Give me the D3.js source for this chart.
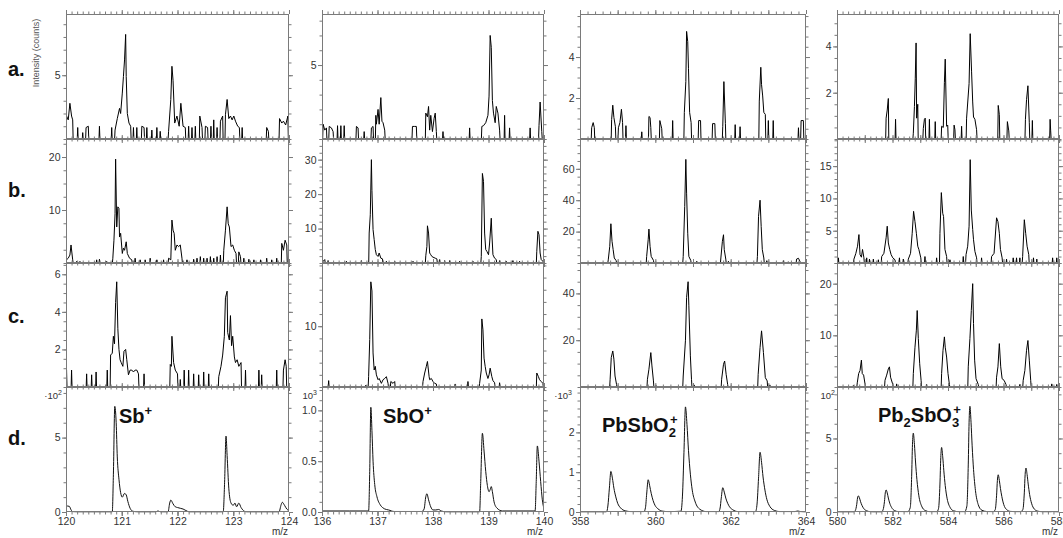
<!DOCTYPE html>
<html><head><meta charset="utf-8">
<script src="https://cdn.jsdelivr.net/npm/d3@7"></script>
<style>body{margin:0;background:#fff}svg{display:block}</style>
</head><body><svg id="chart" width="1063" height="538"></svg>
<script>
// ---------------- DATA ----------------
const rowLabels = ["a.", "b.", "c.", "d."];
const ionNames = ["Sb", "SbO", "PbSbO2", "Pb2SbO3"];
const mzDomains = [[120, 124], [136, 140], [358, 364], [580, 588]];
const xTickValues = [[120, 121, 122, 123, 124], [136, 137, 138, 139, 140], [358, 360, 362, 364], [580, 582, 584, 586, 588]];
const xTickLabels = [["120", "121", "122", "123", "124"], ["136", "137", "138", "139", "140"], ["358", "360", "362", "364"], ["580", "582", "584", "586", "588"]];
const yTops = [[9.8, 8.45, 6.1, 5.4], [23.4, 36, 79, 19.2], [6.6, 20.4, 53, 24], [8.4, 1.23, 3.14, 8.5]];
const yTickValues = [
  [[5], [5], [2, 4], [2, 4]],
  [[10, 20], [10, 20, 30], [20, 40, 60], [5, 10, 15]],
  [[2, 4, 6], [10], [20, 40], [10, 20]],
  [[0, 5], [0, 0.5, 1.0], [0, 1, 2], [0, 5]]
];
const yTickLabels = [
  [["5"], ["5"], ["2", "4"], ["2", "4"]],
  [["10", "20"], ["10", "20", "30"], ["20", "40", "60"], ["5", "10", "15"]],
  [["2", "4", "6"], ["10"], ["20", "40"], ["10", "20"]],
  [["0", "5"], ["0.0", "0.5", "1.0"], ["0", "1", "2"], ["0", "5"]]
];
const yMinorSteps = [[1, 1, 0.5, 0.5], [2.5, 2, 5, 1], [0.5, 2, 5, 2], [1, 0.1, 0.2, 1]];
const exponentLabels = [["·10", "2"], ["10", "3"], ["·10", "3"], ["10", "2"]];

// row a: [m/z, counts]
const a_Sb = [[120.01,1.8],[120.04,1.5],[120.07,2.8],[120.10,1.8],[120.12,1.5],[120.21,0.9],[120.30,0.5],[120.36,0.9],[120.40,1.0],[120.60,1.0],[120.82,0.9],[120.88,0.7],[120.92,1.6],[120.96,2.4],[120.98,2.0],[121.01,3.6],[121.03,4.9],[121.05,6.2],[121.07,8.2],[121.08,4.9],[121.10,2.0],[121.13,1.25],[121.16,1.0],[121.21,0.9],[121.27,0.9],[121.36,1.0],[121.40,0.9],[121.45,0.9],[121.54,0.7],[121.63,0.9],[121.69,0.6],[121.84,0.6],[121.88,3.1],[121.90,5.7],[121.92,4.6],[121.95,1.25],[121.99,1.8],[122.03,1.0],[122.06,2.8],[122.10,1.0],[122.14,0.9],[122.20,1.0],[122.26,0.9],[122.32,1.0],[122.40,1.8],[122.44,0.9],[122.50,1.0],[122.54,0.9],[122.60,1.0],[122.65,1.5],[122.71,0.9],[122.77,1.4],[122.81,1.8],[122.86,1.9],[122.89,3.1],[122.92,1.6],[122.95,1.8],[122.98,1.5],[123.01,1.8],[123.04,1.4],[123.08,1.0],[123.11,0.9],[123.16,0.9],[123.60,0.9],[123.63,0.6],[123.83,1.6],[123.87,1.25],[123.90,1.4],[123.94,1.1],[123.98,1.8]];
const a_SbO = [[136.02,1.0],[136.05,0.6],[136.08,0.75],[136.13,0.85],[136.17,0.75],[136.20,0.5],[136.28,0.9],[136.34,0.9],[136.40,0.9],[136.62,0.85],[136.65,0.75],[136.76,0.5],[136.89,0.75],[136.92,0.85],[136.97,1.6],[136.98,1.0],[137.01,2.0],[137.03,1.0],[137.06,2.8],[137.08,1.2],[137.10,1.1],[137.13,0.6],[137.63,0.85],[137.67,0.85],[137.70,0.85],[137.87,1.75],[137.90,1.5],[137.92,2.2],[137.94,0.6],[137.96,1.6],[137.99,0.5],[138.02,1.4],[138.04,1.75],[138.06,0.5],[138.18,0.5],[138.66,0.75],[138.88,0.85],[138.91,0.9],[138.95,1.1],[138.99,1.6],[139.01,2.9],[139.03,7.0],[139.05,6.2],[139.07,2.6],[139.09,1.75],[139.12,1.1],[139.14,2.2],[139.17,1.75],[139.20,0.6],[139.29,1.6],[139.38,0.75],[139.75,0.75],[139.91,0.9],[139.93,2.5],[139.96,0.5]];
const a_PbSbO2 = [[358.31,0.55],[358.35,0.8],[358.38,0.55],[358.84,0.95],[358.87,1.65],[358.90,1.05],[358.94,0.6],[359.02,0.55],[359.06,0.8],[359.10,1.45],[359.13,0.8],[359.22,0.65],[359.64,0.35],[359.83,1.1],[359.86,1.05],[359.88,0.55],[360.12,0.9],[360.17,0.5],[360.46,0.9],[360.77,1.3],[360.81,2.8],[360.83,5.25],[360.86,4.75],[360.88,3.45],[360.91,1.3],[360.95,0.8],[361.15,0.9],[361.20,0.9],[361.52,0.75],[361.58,0.75],[361.79,0.6],[361.82,2.8],[361.86,0.75],[362.12,0.7],[362.25,0.6],[362.76,1.85],[362.80,3.5],[362.82,2.65],[362.85,2.1],[362.88,1.3],[362.92,1.2],[363.00,0.9],[363.13,0.9],[363.80,0.55],[363.87,0.9],[363.93,0.9]];
const a_Pb2SbO3 = [[581.77,0.9],[581.81,1.25],[581.85,1.75],[582.11,0.85],[582.75,0.25],[582.79,1.4],[582.82,2.6],[582.85,4.15],[582.87,0.9],[582.91,1.5],[583.11,0.45],[583.15,0.85],[583.18,0.9],[583.33,0.85],[583.54,0.75],[583.77,0.55],[583.83,0.5],[583.87,2.45],[583.90,3.45],[583.95,0.55],[583.99,0.6],[584.22,0.6],[584.25,0.4],[584.49,0.55],[584.67,0.9],[584.76,2.4],[584.80,4.55],[584.85,2.9],[584.89,1.6],[584.92,0.95],[584.97,0.85],[585.03,0.4],[585.81,1.45],[585.85,1.05],[586.14,0.75],[586.19,0.35],[586.79,0.85],[586.83,1.7],[586.88,2.3],[586.93,0.7],[587.04,0.8],[587.68,0.85],[587.70,0.35]];

// row b
const b_Sb = [[120.01,0.6],[120.04,0.9],[120.07,1.5],[120.09,3.4],[120.12,0.6],[120.19,0.3],[120.25,0.3],[120.55,0.6],[120.60,0.7],[120.73,0.3],[120.84,0.9],[120.86,4.3],[120.88,9.3],[120.89,19.6],[120.91,6.8],[120.93,10.6],[120.95,10.3],[120.96,4.9],[120.98,5.6],[121.01,1.8],[121.03,2.8],[121.05,2.4],[121.08,4.0],[121.10,1.8],[121.14,0.9],[121.18,0.6],[121.24,0.9],[121.33,0.6],[121.42,0.6],[121.51,0.9],[121.63,0.6],[121.75,0.6],[121.84,0.9],[121.88,0.6],[121.90,8.1],[121.92,6.2],[121.94,5.6],[121.96,2.4],[121.99,3.4],[122.02,3.1],[122.05,3.4],[122.08,0.9],[122.17,0.6],[122.29,0.7],[122.35,0.9],[122.41,1.2],[122.47,0.9],[122.53,0.9],[122.59,1.2],[122.65,0.9],[122.71,1.2],[122.77,1.5],[122.83,2.4],[122.86,6.2],[122.89,10.6],[122.91,7.4],[122.93,6.8],[122.96,3.1],[122.99,3.4],[123.02,2.4],[123.05,1.8],[123.10,2.1],[123.13,1.2],[123.19,0.9],[123.28,0.7],[123.37,0.6],[123.49,0.6],[123.60,0.9],[123.69,0.6],[123.78,0.9],[123.87,3.7],[123.90,2.4],[123.93,4.3],[123.96,3.4]];
const b_SbO = [[136.02,0.5],[136.05,1.0],[136.11,0.7],[136.44,0.5],[136.59,0.3],[136.71,0.7],[136.85,8.7],[136.87,14],[136.89,30],[136.90,21],[136.92,9.7],[136.94,6.8],[136.96,3.9],[136.98,2.4],[137.01,1.9],[137.03,2.9],[137.06,1.4],[137.09,1.2],[137.16,0.5],[137.31,0.5],[137.40,0.3],[137.64,0.5],[137.87,2.1],[137.89,4.8],[137.90,10.8],[137.92,8.7],[137.94,2.9],[137.96,2.4],[137.98,1.9],[138.00,1.7],[138.04,1.4],[138.07,1.2],[138.12,1.0],[138.21,0.7],[138.30,0.7],[138.48,0.5],[138.72,0.5],[138.87,1.9],[138.89,26],[138.91,23.7],[138.93,8.7],[138.95,3.9],[138.97,3.4],[139.00,2.4],[139.02,5.8],[139.05,13],[139.06,8.7],[139.08,2.4],[139.11,1.4],[139.14,1.0],[139.20,0.7],[139.32,0.5],[139.44,0.7],[139.56,0.5],[139.71,0.3],[139.87,3.4],[139.89,9.2],[139.91,8.2],[139.93,2.9],[139.95,1.0],[139.98,0.5]];
const b_PbSbO2 = [[358.09,0.4],[358.35,0.4],[358.58,0.3],[358.75,2],[358.79,10.6],[358.82,25],[358.85,13.8],[358.88,8.5],[358.91,3.2],[358.96,1.5],[359.06,0.6],[359.24,0.5],[359.42,0.6],[359.59,0.4],[359.77,4.2],[359.81,14.8],[359.83,21.6],[359.86,10.6],[359.89,4.2],[359.95,1.7],[360.08,0.6],[360.26,0.5],[360.48,0.4],[360.74,4.2],[360.78,36],[360.81,66],[360.83,44.5],[360.86,19],[360.89,4.2],[360.94,1.7],[361.10,1.1],[361.27,0.6],[361.54,0.5],[361.74,3.2],[361.78,13.8],[361.81,18],[361.83,8.5],[361.87,2.5],[361.94,1.1],[362.07,0.6],[362.34,0.5],[362.51,0.6],[362.71,4.2],[362.74,29.7],[362.78,40],[362.81,23.3],[362.84,8.5],[362.88,3.2],[362.96,1.5],[363.13,0.6],[363.40,1.5],[363.53,0.8],[363.75,2.5],[363.80,3.0],[363.84,1.0]];
const b_Pb2SbO3 = [[580.05,0.8],[580.61,0.6],[580.68,1.5],[580.74,2.6],[580.79,4.4],[580.83,1.3],[580.88,0.9],[580.92,2.1],[580.97,0.8],[581.07,0.8],[581.17,0.6],[581.31,0.6],[581.49,0.5],[581.61,1.0],[581.69,1.5],[581.77,3.9],[581.81,5.7],[581.85,3.1],[581.90,2.1],[581.95,1.3],[582.01,0.8],[582.09,0.5],[582.25,0.8],[582.39,0.6],[582.57,0.6],[582.65,1.5],[582.71,4.6],[582.76,8.0],[582.81,6.4],[582.86,4.6],[582.91,2.6],[582.95,2.1],[583.02,0.8],[583.17,1.0],[583.59,0.8],[583.71,4.6],[583.76,10.9],[583.81,7.7],[583.84,7.2],[583.89,2.1],[583.95,1.0],[584.07,0.5],[584.55,1.0],[584.65,1.3],[584.71,2.6],[584.76,5.7],[584.80,16],[584.84,8.2],[584.89,5.2],[584.92,3.6],[584.97,1.8],[585.03,0.8],[585.21,0.8],[585.57,1.0],[585.66,1.5],[585.75,7.0],[585.80,6.4],[585.85,4.6],[585.89,2.1],[585.95,0.8],[586.11,0.6],[586.35,0.8],[586.47,0.8],[586.59,0.8],[586.69,1.0],[586.75,6.7],[586.80,4.6],[586.85,2.6],[586.91,1.3],[587.08,0.8],[587.20,0.6],[587.77,0.8],[587.92,0.8]];

// row c
const c_Sb = [[120.01,0.9],[120.10,0.9],[120.37,0.7],[120.46,0.65],[120.54,0.8],[120.74,0.9],[120.80,1.7],[120.83,1.8],[120.85,2.7],[120.87,2.3],[120.89,4.5],[120.91,5.6],[120.93,3.1],[120.95,2.0],[120.97,1.45],[120.99,1.3],[121.02,1.1],[121.04,1.9],[121.07,2.0],[121.09,1.45],[121.12,0.65],[121.15,0.9],[121.18,0.9],[121.21,0.8],[121.24,0.9],[121.27,0.9],[121.30,0.7],[121.40,0.7],[121.87,1.2],[121.89,1.1],[121.90,2.7],[121.93,1.3],[121.96,0.9],[122.00,0.7],[122.05,0.4],[122.12,0.9],[122.20,0.9],[122.29,0.7],[122.38,0.65],[122.47,0.8],[122.56,0.7],[122.74,0.55],[122.78,1.1],[122.81,1.7],[122.84,2.7],[122.86,4.75],[122.89,5.1],[122.90,2.9],[122.93,2.5],[122.95,3.8],[122.97,2.2],[122.99,2.7],[123.02,1.6],[123.04,1.3],[123.07,1.45],[123.10,1.1],[123.14,1.3],[123.22,0.9],[123.46,0.9],[123.51,0.65],[123.78,0.9],[123.90,0.9],[123.93,1.45],[123.95,1.1]];
const c_SbO = [[136.12,1.05],[136.79,0.3],[136.84,1.7],[136.86,7.8],[136.88,17.3],[136.90,15.8],[136.92,5.6],[136.94,2.8],[136.96,3.4],[136.98,2.0],[137.01,1.2],[137.03,1.4],[137.07,0.6],[137.10,1.2],[137.13,1.4],[137.16,1.7],[137.19,0.6],[137.24,0.9],[137.28,0.6],[137.31,0.9],[137.82,0.9],[137.85,2.3],[137.88,3.4],[137.90,4.2],[137.93,1.7],[137.94,1.2],[137.97,1.4],[138.00,0.9],[138.03,0.6],[138.06,0.5],[138.40,0.5],[138.63,0.9],[138.84,0.6],[138.87,2.8],[138.88,11.2],[138.90,9.4],[138.92,4.75],[138.94,3.4],[138.96,2.3],[138.99,1.4],[139.01,2.0],[139.03,3.1],[139.06,1.7],[139.08,1.05],[139.11,0.7],[139.20,0.7],[139.87,2.3],[139.90,1.7],[139.92,1.2],[139.95,0.9],[139.98,0.6]];
const c_PbSbO2 = [[358.18,0.3],[358.53,0.4],[358.80,3.3],[358.83,12.6],[358.87,15.4],[358.90,11.9],[358.93,4.7],[358.97,1.1],[359.24,0.4],[359.59,0.4],[359.79,3.3],[359.83,7.6],[359.88,14.7],[359.91,9],[359.95,2.6],[360.02,0.6],[360.30,0.4],[360.57,0.4],[360.74,4.7],[360.80,20],[360.83,38.3],[360.87,45],[360.89,34.7],[360.93,13.3],[360.96,3.3],[361.03,0.9],[361.36,0.4],[361.76,3.3],[361.81,9.7],[361.84,11.1],[361.88,5.4],[361.92,1.1],[362.25,0.4],[362.73,5.4],[362.78,16.9],[362.82,24],[362.87,14.7],[362.92,4],[362.97,2.6],[363.04,0.9],[363.31,0.4],[363.66,0.4],[363.93,0.5]];
const c_Pb2SbO3 = [[580.59,0.3],[580.73,0.8],[580.78,2.6],[580.83,3.2],[580.88,5.2],[580.91,2.6],[580.96,2.3],[581.01,0.6],[581.73,1.3],[581.79,2.3],[581.85,3.5],[581.89,3.9],[581.93,1.9],[582.01,0.5],[582.15,0.6],[582.75,2.6],[582.81,7.7],[582.86,11],[582.89,14.8],[582.93,9.4],[582.98,4.5],[583.03,1.3],[583.23,0.5],[583.77,2.6],[583.82,7.1],[583.87,9.7],[583.90,7.7],[583.95,5.8],[584.00,2.6],[584.05,0.5],[584.73,3.9],[584.79,9.4],[584.84,14.8],[584.89,20],[584.92,12.3],[584.96,5.2],[585.01,1.6],[585.09,0.5],[585.75,1.9],[585.80,3.9],[585.85,8.4],[585.90,3.9],[585.95,1.6],[586.02,1.3],[586.09,0.5],[586.59,0.5],[586.71,1.3],[586.77,3.2],[586.83,7.1],[586.88,9.0],[586.93,5.2],[586.98,1.3],[587.74,0.6],[587.92,0.5]];

// row d (simulated, in units of the exponent label)
const d_Sb = [[120.0,0.42],[120.03,0.40],[120.06,0.38],[120.09,0.15],[120.12,0.02],[120.2,0],[120.83,0],[120.85,2.5],[120.875,7.1],[120.9,6.0],[120.92,3.7],[120.95,2.2],[120.98,1.3],[121.01,1.0],[121.05,1.25],[121.08,1.15],[121.11,0.7],[121.15,0.25],[121.2,0.05],[121.3,0],[121.6,0],[121.65,0.07],[121.7,0],[121.83,0],[121.86,0.6],[121.88,0.8],[121.92,0.55],[121.96,0.35],[122.0,0.3],[122.05,0.25],[122.1,0.2],[122.15,0.1],[122.22,0],[122.82,0],[122.845,2.0],[122.87,5.1],[122.89,3.8],[122.92,1.6],[122.96,0.6],[123.0,0.45],[123.03,0.6],[123.06,0.35],[123.1,0.6],[123.14,0.3],[123.2,0.05],[123.25,0],[123.82,0],[123.86,0.5],[123.88,0.65],[123.92,0.45],[123.96,0.2],[124.0,0.08]];
const d_SbO = [[136.0,0.01],[136.5,0.01],[136.84,0.01],[136.86,0.4],[136.88,1.03],[136.9,0.8],[136.92,0.5],[136.95,0.27],[136.99,0.15],[137.05,0.07],[137.1,0.04],[137.13,0.03],[137.2,0.02],[137.3,0.005],[137.8,0.005],[137.84,0.03],[137.87,0.15],[137.89,0.18],[137.92,0.12],[137.96,0.05],[138.0,0.02],[138.05,0.02],[138.1,0.025],[138.15,0.01],[138.25,0],[138.84,0],[138.86,0.3],[138.89,0.775],[138.92,0.6],[138.95,0.4],[138.98,0.26],[139.01,0.2],[139.03,0.22],[139.05,0.25],[139.07,0.2],[139.1,0.1],[139.15,0.04],[139.25,0.01],[139.84,0.01],[139.86,0.3],[139.88,0.65],[139.91,0.5],[139.94,0.3],[139.97,0.12],[140.0,0.03]];
const d_PbSbO2 = [[358,0],[358.7,0],[358.74,0.15],[358.78,0.6],[358.82,1.02],[358.86,0.85],[358.9,0.6],[358.95,0.38],[359.0,0.22],[359.08,0.1],[359.2,0.03],[359.35,0.01],[359.7,0.01],[359.74,0.12],[359.77,0.45],[359.81,0.81],[359.85,0.66],[359.89,0.47],[359.94,0.29],[359.99,0.17],[360.07,0.08],[360.2,0.02],[360.35,0.01],[360.68,0.02],[360.72,0.4],[360.76,1.5],[360.8,2.64],[360.84,2.2],[360.88,1.55],[360.93,0.95],[360.98,0.55],[361.06,0.25],[361.18,0.07],[361.35,0.01],[361.68,0.01],[361.72,0.1],[361.75,0.35],[361.79,0.61],[361.83,0.5],[361.87,0.35],[361.92,0.22],[361.97,0.13],[362.05,0.06],[362.2,0.01],[362.66,0.01],[362.7,0.2],[362.74,0.85],[362.78,1.5],[362.82,1.25],[362.86,0.88],[362.91,0.55],[362.96,0.32],[363.04,0.14],[363.16,0.04],[363.3,0.01],[363.7,0.01],[363.78,0.025],[363.85,0.01],[364,0]];
const d_Pb2SbO3 = [[580.0,0],[580.6,0],[580.66,0.1],[580.71,0.5],[580.74,0.95],[580.77,1.1],[580.81,0.95],[580.85,0.7],[580.9,0.45],[580.97,0.22],[581.07,0.08],[581.2,0.02],[581.3,0],[581.6,0],[581.66,0.15],[581.71,0.7],[581.74,1.3],[581.77,1.5],[581.81,1.3],[581.85,0.95],[581.9,0.6],[581.97,0.3],[582.07,0.1],[582.2,0.03],[582.55,0.02],[582.64,0.3],[582.69,2.4],[582.72,4.6],[582.75,5.36],[582.79,4.6],[582.83,3.4],[582.88,2.2],[582.95,1.1],[583.05,0.4],[583.18,0.1],[583.35,0.02],[583.6,0.02],[583.66,0.25],[583.71,1.9],[583.74,3.7],[583.77,4.39],[583.81,3.75],[583.85,2.8],[583.9,1.8],[583.97,0.9],[584.07,0.33],[584.2,0.08],[584.4,0.02],[584.6,0.02],[584.68,0.4],[584.73,3.2],[584.76,6.1],[584.79,7.19],[584.83,6.1],[584.87,4.5],[584.92,2.9],[584.99,1.45],[585.09,0.5],[585.22,0.12],[585.4,0.03],[585.62,0.02],[585.7,0.15],[585.75,1.1],[585.78,2.15],[585.81,2.53],[585.85,2.15],[585.89,1.6],[585.94,1.05],[586.01,0.5],[586.11,0.17],[586.25,0.04],[586.45,0.02],[586.62,0.02],[586.7,0.18],[586.75,1.3],[586.78,2.55],[586.81,2.99],[586.85,2.55],[586.89,1.9],[586.94,1.2],[587.01,0.6],[587.11,0.2],[587.25,0.05],[587.45,0.01],[587.7,0.01],[587.8,0.03],[587.88,0.01],[588.0,0]];

const spectra = [
  [a_Sb, a_SbO, a_PbSbO2, a_Pb2SbO3],
  [b_Sb, b_SbO, b_PbSbO2, b_Pb2SbO3],
  [c_Sb, c_SbO, c_PbSbO2, c_Pb2SbO3],
  [d_Sb, d_SbO, d_PbSbO2, d_Pb2SbO3]
];

// ---------------- LAYOUT ----------------
const colX = [[66, 289], [322, 544], [580, 806], [837, 1059]];
const rowY = [14, 139, 263, 387, 512];
const xMinorStep = [0.1, 0.1, 0.2, 0.2];
const labelBaselines = [75.5, 196.5, 322.5, 445];
const expoX = [62, 317, 572, 835];
const FONT = "'Liberation Sans', Arial, Helvetica, sans-serif";
const AXIS_COLOR = "#7a7a7a";
const TEXT_COLOR = "#333";

const svg = d3.select("#chart").style("font-family", FONT);
const defs = svg.append("defs");

function rangeTicks(lo, hi, step) {
  const out = [];
  const n = Math.floor((hi - lo) / step + 1e-6);
  for (let i = 0; i <= n; i++) out.push(+(lo + i * step).toFixed(6));
  return out;
}

function styleAxis(g) {
  g.select(".domain").remove();
  g.selectAll(".tick line").attr("stroke", AXIS_COLOR).attr("stroke-width", 1);
  g.selectAll(".tick text").attr("fill", TEXT_COLOR).style("font-size", "10.5px").style("font-family", FONT);
}

function clusterPath(data, x, y, halfW, gap) {
  const pts = data.map(d => [x(d[0]), y(d[1])]);
  const y0 = y(0);
  const groups = [];
  let cur = [];
  pts.forEach((p, i) => {
    if (i > 0 && p[0] - pts[i - 1][0] > gap) { groups.push(cur); cur = []; }
    cur.push(p);
  });
  if (cur.length) groups.push(cur);
  const line = d3.line();
  return groups.map(g => line([[g[0][0] - halfW, y0], ...g, [g[g.length - 1][0] + halfW, y0]])).join("");
}

for (let r = 0; r < 4; r++) {
  for (let c = 0; c < 4; c++) {
    const [x0, x1] = colX[c];
    const yTop = rowY[r], yBot = rowY[r + 1];
    const x = d3.scaleLinear().domain(mzDomains[c]).range([x0, x1]);
    const y = d3.scaleLinear().domain([0, yTops[r][c]]).range([yBot, yTop]);
    const g = svg.append("g");
    const clipId = `clip-${r}-${c}`;
    defs.append("clipPath").attr("id", clipId).append("rect")
      .attr("x", x0).attr("y", yTop - 0.5).attr("width", x1 - x0).attr("height", yBot - yTop + 1);

    // data
    const data = spectra[r][c];
    if (r < 3) {
      g.append("path").attr("clip-path", `url(#${clipId})`)
        .attr("d", clusterPath(data, x, y, 0.45, 2.6))
        .attr("fill", "none").attr("stroke", "#000").attr("stroke-width", 1)
        .attr("stroke-linejoin", "miter");
    } else {
      g.append("path").attr("clip-path", `url(#${clipId})`)
        .datum(data)
        .attr("d", d3.line().x(d => x(d[0])).y(d => y(d[1])).curve(d3.curveMonotoneX))
        .attr("fill", "none").attr("stroke", "#111").attr("stroke-width", 1);
    }

    // minor ticks
    const xMinor = rangeTicks(mzDomains[c][0], mzDomains[c][1], xMinorStep[c]);
    const xMajor = rangeTicks(mzDomains[c][0], mzDomains[c][1], 1);
    const yMinor = rangeTicks(0, yTops[r][c], yMinorSteps[r][c]);
    const yMajor = yTickValues[r][c];

    g.append("g").attr("transform", `translate(0,${yTop})`)
      .call(d3.axisTop(x).tickValues(xMinor).tickSize(2.5).tickFormat("")).call(styleAxis);
    g.append("g").attr("transform", `translate(0,${yTop})`)
      .call(d3.axisTop(x).tickValues(xMajor).tickSize(4).tickFormat("")).call(styleAxis);
    g.append("g").attr("transform", `translate(0,${yBot})`)
      .call(d3.axisBottom(x).tickValues(xMinor).tickSize(2.5).tickFormat("")).call(styleAxis);
    const labs = xTickLabels[c];
    g.append("g").attr("transform", `translate(0,${yBot})`)
      .call(d3.axisBottom(x).tickValues(r === 3 ? xTickValues[c] : xMajor).tickSize(4).tickPadding(2)
        .tickFormat((d, i) => r === 3 ? labs[i] : "")).call(styleAxis);
    if (r === 3) {
      g.append("g").attr("transform", `translate(0,${yBot})`)
        .call(d3.axisBottom(x).tickValues(xMajor).tickSize(4).tickFormat("")).call(styleAxis);
    }

    g.append("g").attr("transform", `translate(${x0},0)`)
      .call(d3.axisLeft(y).tickValues(yMinor).tickSize(2.5).tickFormat("")).call(styleAxis);
    const ylabs = yTickLabels[r][c];
    g.append("g").attr("transform", `translate(${x0},0)`)
      .call(d3.axisLeft(y).tickValues(yMajor).tickSize(4).tickPadding(1.5).tickFormat((d, i) => ylabs[i])).call(styleAxis);
    g.append("g").attr("transform", `translate(${x1},0)`)
      .call(d3.axisRight(y).tickValues(yMinor).tickSize(2.5).tickFormat("")).call(styleAxis);
    g.append("g").attr("transform", `translate(${x1},0)`)
      .call(d3.axisRight(y).tickValues(yMajor).tickSize(4).tickFormat("")).call(styleAxis);

    // frame
    g.append("rect").attr("x", x0 + 0.5).attr("y", yTop + 0.5)
      .attr("width", x1 - x0 - 1).attr("height", yBot - yTop - 1)
      .attr("fill", "none").attr("stroke", AXIS_COLOR).attr("stroke-width", 1);

    if (r === 3) {
      svg.append("text").attr("x", x1 - 1).attr("y", 535).attr("text-anchor", "end")
        .attr("fill", TEXT_COLOR).style("font-size", "10px").text("m/z");
      const t = svg.append("text").attr("x", expoX[c]).attr("y", 399).attr("text-anchor", "end")
        .attr("fill", TEXT_COLOR).style("font-size", "9.5px");
      t.append("tspan").text(exponentLabels[c][0]);
      t.append("tspan").attr("dy", -4).style("font-size", "7px").text(exponentLabels[c][1]);
    }
  }
}

// row letters
rowLabels.forEach((l, i) => {
  svg.append("text").attr("x", 8).attr("y", labelBaselines[i])
    .style("font-size", "20px").style("font-weight", "bold").attr("fill", "#111").text(l);
});

// y-axis title
svg.append("text").attr("transform", "translate(39,53) rotate(-90)")
  .attr("text-anchor", "middle").attr("fill", "#555").style("font-size", "9px").text("Intensity (counts)");

// ion labels
const ionPos = [[119, 423], [383, 423], [602, 432], [878, 422]];
function ionLabel(i, parts) {
  const t = svg.append("text").attr("x", ionPos[i][0]).attr("y", ionPos[i][1])
    .style("font-size", "20px").style("font-weight", "bold").attr("fill", "#111");
  parts.forEach(p => {
    const s = t.append("tspan").text(p.t);
    if (p.size) s.style("font-size", p.size + "px");
    if (p.dy) s.attr("dy", p.dy);
    if (p.dx) s.attr("dx", p.dx);
  });
}
ionLabel(0, [{t: "Sb"}, {t: "+", size: 13, dy: -8}]);
ionLabel(1, [{t: "SbO"}, {t: "+", size: 13, dy: -8}]);
ionLabel(2, [{t: "PbSbO"}, {t: "2", size: 13, dy: 5}, {t: "+", size: 13, dy: -13, dx: -6}]);
ionLabel(3, [{t: "Pb"}, {t: "2", size: 13, dy: 5}, {t: "SbO", dy: -5}, {t: "3", size: 13, dy: 5}, {t: "+", size: 13, dy: -13, dx: -6}]);
</script>
</body></html>
